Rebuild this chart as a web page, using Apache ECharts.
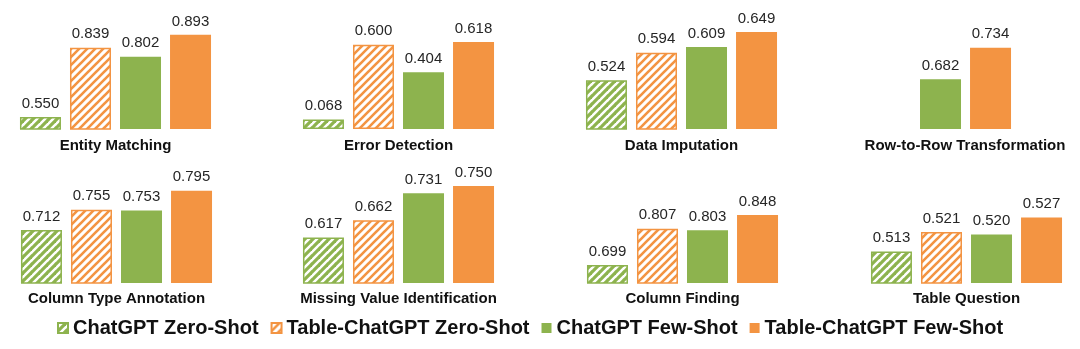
<!DOCTYPE html>
<html>
<head>
<meta charset="utf-8">
<script src="https://cdn.jsdelivr.net/npm/echarts@6/dist/echarts.min.js"></script>
<style>
  html, body { margin: 0; padding: 0; background: #fff; }
  #chart { width: 1080px; height: 349px; }
</style>
</head>
<body>
<div id="chart"></div>
<script>
// Task panels, in reading order (two rows of four)
const panels = [
  'Entity Matching', 'Error Detection', 'Data Imputation', 'Row-to-Row Transformation',
  'Column Type Annotation', 'Missing Value Identification', 'Column Finding', 'Table Question'
];
const seriesNames = [
  'ChatGPT Zero-Shot', 'Table-ChatGPT Zero-Shot', 'ChatGPT Few-Shot', 'Table-ChatGPT Few-Shot'
];
// Scores per panel (null = not reported)
const chatgptZeroShot      = [0.550, 0.068, 0.524, null,  0.712, 0.617, 0.699, 0.513];
const tableChatgptZeroShot = [0.839, 0.600, 0.594, null,  0.755, 0.662, 0.807, 0.521];
const chatgptFewShot       = [0.802, 0.404, 0.609, 0.682, 0.753, 0.731, 0.803, 0.520];
const tableChatgptFewShot  = [0.893, 0.618, 0.649, 0.734, 0.795, 0.750, 0.848, 0.527];
// Each panel has its own value range
const axisMin = [0.5, 0,    0.4,   0.6,  0.6,   0.5,  0.645, 0.5];
const axisMax = [0.905, 0.69, 0.647, 0.76, 0.805, 0.75, 0.935, 0.54];

const GREEN = '#8db34e';
const ORANGE = '#f39442';

// Diagonal "/" stripe tile used for the zero-shot bars
function hatch(color, width) {
  const s = 8;
  const c = document.createElement('canvas');
  c.width = s; c.height = s;
  const g = c.getContext('2d');
  g.fillStyle = '#fff';
  g.fillRect(0, 0, s, s);
  g.strokeStyle = color;
  g.lineWidth = width;
  g.lineCap = 'square';
  [-s, 0, s].forEach(dx => {
    g.beginPath();
    g.moveTo(dx, s);
    g.lineTo(dx + s, 0);
    g.stroke();
  });
  return { image: c, repeat: 'repeat' };
}

const seriesData = [chatgptZeroShot, tableChatgptZeroShot, chatgptFewShot, tableChatgptFewShot];
const styles = [
  { color: hatch(GREEN, 3.2), borderColor: GREEN, borderWidth: 1.5 },
  { color: hatch(ORANGE, 2.6), borderColor: ORANGE, borderWidth: 1.5 },
  { color: GREEN },
  { color: ORANGE }
];

const gridLeft = [15.5, 298.5, 581.5, 815.5, 16.5, 298.5, 582.5, 866.5];
const GRID_W = 200, GRID_H = 97;
const rowTop = [32, 186];
const titleY = [146, 299];

const grid = [], xAxis = [], yAxis = [], series = [], graphic = [];
panels.forEach((name, i) => {
  const row = i < 4 ? 0 : 1;
  grid.push({ left: gridLeft[i], top: rowTop[row], width: GRID_W, height: GRID_H });
  xAxis.push({ gridIndex: i, type: 'category', data: [name], show: false });
  yAxis.push({ gridIndex: i, type: 'value', min: axisMin[i], max: axisMax[i], show: false });
  seriesData.forEach((arr, k) => {
    series.push({
      name: seriesNames[k],
      type: 'bar',
      xAxisIndex: i,
      yAxisIndex: i,
      barWidth: 41,
      barGap: '22%',
      clip: true,
      data: [arr[i]],
      itemStyle: styles[k],
      label: {
        show: true,
        position: 'top',
        distance: 6,
        formatter: p => p.value.toFixed(3),
        fontFamily: 'Liberation Sans',
        fontSize: 15,
        color: '#262626'
      },
      silent: true,
      animation: false
    });
  });
  const cx = i === 3 ? 965 : gridLeft[i] + GRID_W / 2;
  graphic.push({
    type: 'text',
    x: cx,
    y: titleY[row],
    style: {
      text: name,
      fill: '#111',
      font: 'bold 15px "Liberation Sans"',
      align: 'center',
      verticalAlign: 'middle'
    }
  });
});

const chart = echarts.init(document.getElementById('chart'), null, { renderer: 'canvas' });
chart.setOption({
  backgroundColor: '#fff',
  animation: false,
  grid, xAxis, yAxis, series, graphic,
  legend: {
    data: seriesNames,
    left: 52,
    top: 313,
    icon: 'rect',
    itemWidth: 10,
    itemHeight: 10,
    itemGap: 12,
    textStyle: {
      fontFamily: 'Liberation Sans',
      fontWeight: 'bold',
      fontSize: 20,
      color: '#111'
    },
    selectedMode: false
  }
});
</script>
</body>
</html>
